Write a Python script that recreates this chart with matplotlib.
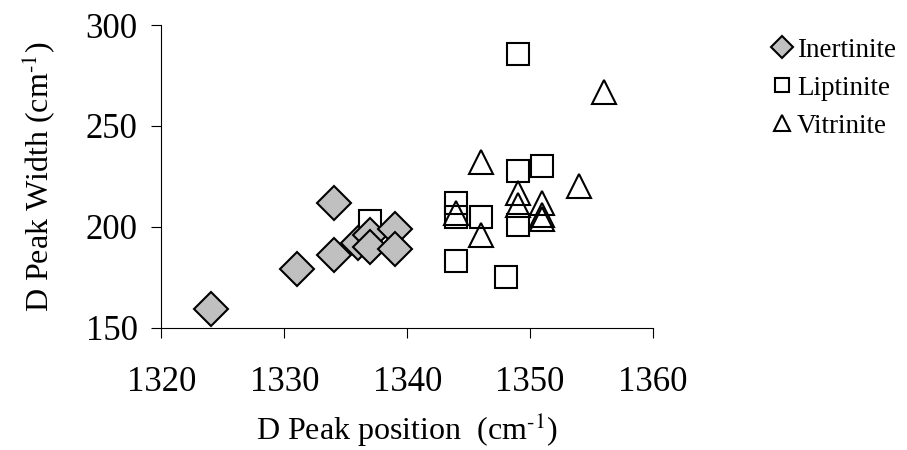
import matplotlib
matplotlib.use('Agg')
import matplotlib.pyplot as plt

plt.rcParams['font.family'] = ['Liberation Serif', 'DejaVu Serif']
plt.rcParams['mathtext.fontset'] = 'stix'

# D peak position (cm-1) and D peak width (cm-1) per maceral group
inert_x = [1324, 1331, 1334, 1334, 1336, 1337, 1337, 1339, 1339]
inert_y = [159, 179, 212, 186, 192, 196, 190, 199, 189]

lipt_x = [1349, 1349, 1351, 1344, 1344, 1346, 1349, 1344, 1348, 1337]
lipt_y = [285.5, 227.5, 230, 212, 205, 205, 201, 183, 175, 203]

vitr_x = [1356, 1346, 1354, 1349, 1349, 1351, 1351, 1351, 1344, 1346]
vitr_y = [267, 232, 220, 217, 211, 212, 206, 204, 207, 196]

x_ticks = [1320, 1330, 1340, 1350, 1360]
y_ticks = [150, 200, 250, 300]

fig = plt.figure(figsize=(9.07, 4.5), dpi=100)
ax = fig.add_axes([0.178, 0.272, 0.542, 0.672])

ax.plot(lipt_x, lipt_y, 's', ms=15.5, mfc='none', mec='black', mew=1.5,
        label='Liptinite', zorder=3)
ax.plot(vitr_x, vitr_y, '^', ms=17.5, mfc='none', mec='black', mew=1.5,
        label='Vitrinite', zorder=3)
ax.plot(inert_x, inert_y, 'D', ms=17.5, mfc='#c0c0c0', mec='black', mew=1.5,
        label='Inertinite', zorder=4)

ax.set_xlim(1320, 1360)
ax.set_ylim(150, 300)
ax.set_xticks(x_ticks)
ax.set_yticks(y_ticks)
ax.tick_params(direction='out', length=7, width=0.8, labelsize=25)
ax.tick_params(axis='y', pad=10)
ax.tick_params(axis='x', pad=21)
ax.spines['top'].set_visible(False)
ax.spines['right'].set_visible(False)
for s in ['left', 'bottom']:
    ax.spines[s].set_linewidth(0.8)

ax.set_xlabel(r'D Peak position  (cm$^{\text{-1}}$)', fontsize=23, labelpad=8)
ax.set_ylabel(r'D Peak Width (cm$^{\text{-1}}$)', fontsize=23, labelpad=21)

handles, labels = ax.get_legend_handles_labels()
order = [2, 0, 1]
leg = fig.legend([handles[i] for i in order], [labels[i] for i in order],
                 loc='upper left', bbox_to_anchor=(0.825, 0.97), frameon=False,
                 fontsize=19.5, markerscale=0.65, handlelength=0.7,
                 handletextpad=0.2, labelspacing=0.48)

fig.savefig('out.png', dpi=100)
